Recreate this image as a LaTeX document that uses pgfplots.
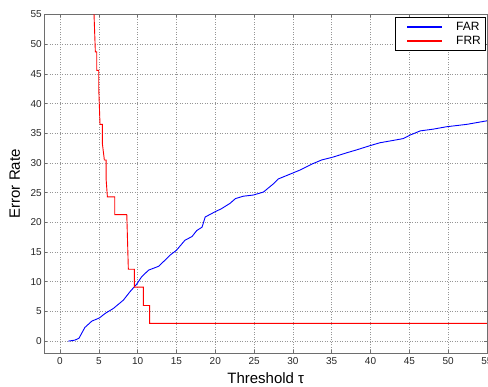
\documentclass[border=0pt]{standalone}
\usepackage{fontspec}
\setmainfont{Liberation Sans}
\usepackage{pgfplots}
\pgfplotsset{compat=1.18}
\definecolor{framegray}{RGB}{110,110,110}
\definecolor{gridgray}{RGB}{150,150,150}
\begin{document}
\begin{tikzpicture}
\useasboundingbox (0,0) rectangle (488pt,387pt);
\begin{axis}[
  at={(44.5pt,34pt)}, anchor=south west,
  scale only axis, width=442.5pt, height=338.5pt,
  xmin=-2, xmax=55, ymin=-2, ymax=55,
  xtick={0,5,...,55}, ytick={0,5,...,55},
  grid=major,
  major grid style={dash pattern=on 1pt off 1.5pt, gridgray, line width=0.6pt},
  axis line style={framegray, line width=0.7pt},
  tick style={framegray, line width=0.5pt},
  major tick length=3pt,
  tick align=inside,
  /pgf/number format/assume math mode=true,
  tick label style={font=\fontsize{10}{12}\selectfont, text=black!85},
  yticklabel style={anchor=east, inner sep=0pt, xshift=-2.5pt},
  xticklabel style={anchor=north, inner sep=0pt, yshift=-4.5pt},
  xlabel={Threshold τ},
  ylabel={Error Rate},
  label style={font=\fontsize{15}{18}\selectfont},
  xlabel style={at={(axis description cs:0.5,-0.074)}, anchor=center},
  ylabel style={at={(axis description cs:-0.067,0.5)}, anchor=center, rotate=0},
  legend style={at={(0.996,0.993)}, anchor=north east, draw=black, line width=0.7pt,
    font=\fontsize{12}{13.5}\selectfont, inner xsep=2pt, inner ysep=3pt,
    cells={anchor=west}},
  legend image code/.code={\path[draw=none] (0pt,0pt) -- (57pt,0pt); \draw[#1, line width=1.4pt] (10pt,0pt) -- (45pt,0pt);},
  legend cell align=left,
]
\addplot[color={rgb,255:red,0;green,0;blue,255}, line width=0.9pt] coordinates {
(1.07,0) (1.93,0.17) (2.45,0.5) (3.2,2.3) (4.1,3.37) (5.07,3.9) (5.8,4.65)
(6.87,5.5) (8.16,6.9) (9.0,8.3) (9.88,9.6) (10.5,10.8) (11.4,11.95) (12.7,12.6)
(13.5,13.6) (14.2,14.5) (15.0,15.3) (16.1,17.0) (17.0,17.6) (17.6,18.6) (18.3,19.2)
(18.7,20.9) (20.0,21.8) (20.8,22.3) (21.9,23.2) (22.6,24.0) (23.6,24.4) (24.9,24.6)
(26.2,25.1) (27.5,26.5) (28.1,27.3) (29.6,28.1) (30.9,28.8) (32.6,29.9) (33.7,30.5)
(35.2,31.0) (36.9,31.7) (38.2,32.2) (39.9,32.9) (41.2,33.4) (42.5,33.7) (44.2,34.1)
(45.1,34.7) (46.4,35.4) (48.1,35.7) (49.8,36.1) (52.4,36.5) (55,37.1)
};
\addlegendentry{FAR}
\addplot[color={rgb,255:red,255;green,0;blue,0}, line width=0.9pt] coordinates {
(4.35,57) (4.38,55) (4.55,48.7) (4.73,48.7) (4.73,45.6) (4.99,45.6) (4.99,42.5)
(5.15,36.5) (5.45,36.5) (5.45,33.3) (5.71,30.5) (5.93,30.5) (5.93,27.4) (6.1,24.3)
(7.05,24.3) (7.05,21.3) (8.6,21.3) (8.8,12.1) (9.58,12.1) (9.58,9.1) (10.74,9.1)
(10.74,6.0) (11.55,6.0) (11.55,3.0) (55,3.0)
};
\addlegendentry{FRR}
\end{axis}
\end{tikzpicture}
\end{document}
